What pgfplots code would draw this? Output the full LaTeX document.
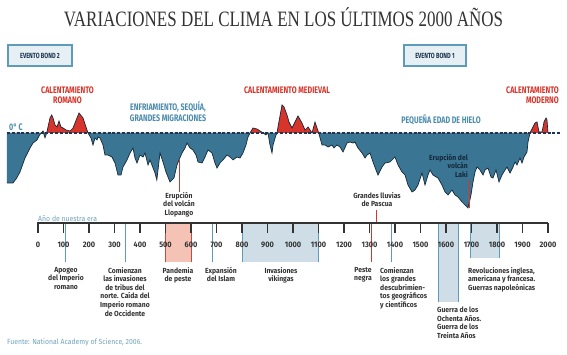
\documentclass[border=0pt]{standalone}
\usepackage{fontspec}
\usepackage{pgfplots}
\usepackage{pgfplotstable}
\pgfplotsset{compat=1.18}
\setmainfont{Fira Sans}
\newfontfamily\titlefont[FakeStretch=0.775]{Liberation Serif}
\newfontfamily\cond[FakeStretch=0.75]{Fira Sans}
\newfontfamily\lab[FakeStretch=0.92]{Fira Sans}
\definecolor{cblue}{HTML}{3A7593}
\definecolor{cred}{HTML}{D7352B}
\definecolor{tblue}{HTML}{4B8CAE}
\definecolor{navy}{HTML}{1E3550}
\definecolor{tl}{HTML}{333333}
\definecolor{band}{HTML}{CFDDE7}
\definecolor{bandedge}{HTML}{5E9BBA}
\definecolor{pinkb}{HTML}{F4C3B6}
\definecolor{pinke}{HTML}{C9493D}
\definecolor{boxfill}{HTML}{E6EFF4}
\definecolor{laki}{HTML}{16283A}

% year, temperature anomaly (arbitrary units, 0 = reference)
\pgfplotstableread{
yr t
-121.6 -50
-98 -50
-83.5 -45
-70.6 -39
-51 -25
-31.4 -15
-19.6 -10
-3.9 -7
3.9 -3
11.8 0
19.6 2
27.5 -4.7
34.1 0
47 15
53.7 18
58.8 15
66.7 8
74.5 6
82.4 12
90.2 6
98 5
109.8 3
125.5 2
137.3 5
152.9 15
160.8 20
176.5 15
188.2 6
196.1 0
207.8 -5
215.7 -12
223.5 -5
231.4 -7
235.3 -4
243.1 -5
254.9 -12
262.7 -22
274.5 -22
290.2 -24
302 -30
313.7 -42
325.5 -42
333.3 -34
349 -27
360.8 -20
372.5 -15
380.4 -25
388.2 -30
400 -22
411.8 -24
419.6 -20
431.4 -32
439.2 -27
458.8 -40
466 -47
478.4 -20
490.2 -29
502 -39
517.6 -49
533.3 -45
545 -32
552.9 -27
564.7 -20
576.5 -15
584.3 -10
596.1 -15
607.8 -17
619.6 -22
627.5 -29
643.1 -30
654.9 -24
666.7 -17
682.4 -20
694.1 -30
702 -35
713.7 -30
725.5 -27
741.2 -22
752.9 -24
764.7 -27
780.4 -24
792.2 -25
803.9 -20
815.7 -12
823.5 -4
831.4 0
843.1 5
858.8 4
870.6 2
882.4 0
894.1 -2
902 0
909.8 -12
917.6 -20
921.6 -12
933.3 -2
937.3 0
941.2 6
956.9 28
964.7 26
976.5 18
984.3 11
996.1 5
1007.8 11
1019.6 17
1035.3 10
1047.1 3
1058.8 6
1074.5 0
1086.3 11
1094.1 5
1102 -1
1113.7 -12
1125.5 -12
1137.3 -14
1152.9 -12
1160.8 -15
1172.5 -12
1184.3 -14
1196.1 -19
1211.8 -10
1223.5 -9
1235.3 -10
1243.1 -9
1254.9 -15
1270.6 -20
1282.4 -25
1290.2 -22
1302 -20
1313.7 -29
1325.5 -37
1333.3 -42
1349 -34
1360.8 -30
1380.4 -29
1400 -24
1411.8 -32
1427.5 -39
1439.2 -42
1451 -52
1466.7 -59
1478.4 -57
1490.2 -52
1505.9 -40
1517.6 -52
1529.4 -42
1537.3 -37
1549 -42
1568.6 -45
1584.3 -52
1596.1 -59
1607.8 -62
1623.5 -57
1635.3 -62
1647.1 -64
1662.7 -69
1674.5 -72
1686.3 -75
1698 -62
1705.9 -49
1713.7 -39
1721.6 -34
1733.3 -37
1745.1 -42
1752.9 -37
1764.7 -35
1776.5 -44
1784.3 -45
1796.1 -37
1807.8 -49
1819.6 -42
1831.4 -37
1839.2 -34
1851 -40
1862.7 -34
1870.6 -29
1878.4 -32
1890.2 -25
1898 -30
1905.9 -24
1917.6 -19
1921.6 -9
1929.4 0
1941.2 6
1949 10
1956.9 11
1964.7 1
1976.5 1
1984.3 11
1992.2 15
1996.1 13
2000 0
}\curve

\begin{document}
\begin{tikzpicture}
\useasboundingbox[fill=white] (0,0) rectangle (567bp,355bp);
% ---------- main axis: temperature curve ----------
\begin{axis}[at={(0,0)}, anchor=south west, width=567bp, height=355bp,
  scale only axis, xmin=-149.02, xmax=2074.5, ymin=-222, ymax=133,
  hide axis, clip=false]
 % period bands below the time line
 \fill[pinkb] (axis cs:500,-90) rectangle (axis cs:600,-129);
 \fill[band] (axis cs:800,-90) rectangle (axis cs:1100,-129);
 \fill[band] (axis cs:1570,-90) rectangle (axis cs:1648,-169);
 \fill[band] (axis cs:1697,-90) rectangle (axis cs:1810,-125);
 \draw[pinke, line width=0.9pt] (axis cs:500,-90) -- (axis cs:500,-129) (axis cs:600,-90) -- (axis cs:600,-129);
 \draw[bandedge, line width=0.9pt]
   (axis cs:800,-90) -- (axis cs:800,-129) (axis cs:1100,-90) -- (axis cs:1100,-129)
   (axis cs:1570,-90) -- (axis cs:1570,-169) (axis cs:1648,-90) -- (axis cs:1648,-169)
   (axis cs:1697,-90) -- (axis cs:1697,-125) (axis cs:1810,-90) -- (axis cs:1810,-125)
   (axis cs:109,-90) -- (axis cs:109,-129) (axis cs:341,-90) -- (axis cs:341,-129)
   (axis cs:686,-90) -- (axis cs:686,-129) (axis cs:1387,-90) -- (axis cs:1387,-129);
 \draw[cred, line width=0.9pt] (axis cs:1309,-90) -- (axis cs:1309,-129);
 % curve
 \addplot[fill=cblue, draw=none] table[x=yr, y expr={min(\thisrow{t},0)}] {\curve} \closedcycle;
 \addplot[fill=cred, draw=none] table[x=yr, y expr={max(\thisrow{t},0)}] {\curve} \closedcycle;
 \addplot[laki, line width=0.7pt] table[x=yr, y=t] {\curve};
 \addplot[navy, line width=1.4pt, dash pattern=on 3pt off 1.8pt] coordinates {(-121,0) (2047,0)};
 % event markers
 \draw[cred, line width=0.9pt] (axis cs:553,-27) -- (axis cs:553,-59);
 \draw[cred, line width=0.9pt] (axis cs:1329,-77) -- (axis cs:1329,-90);
 \draw[cred, line width=0.9pt] (axis cs:1690,-47) -- (axis cs:1690,-75);
\end{axis}
% ---------- time line ----------
\begin{axis}[at={(37bp,132bp)}, anchor=south west, width=511bp, height=20bp,
  scale only axis, xmin=-4, xmax=2000, ymin=0, ymax=1,
  axis x line=bottom, axis y line=none,
  x axis line style={-, line width=1.3pt, color=tl},
  xtick={0,100,...,2000},
  xticklabels={0,100,200,300,400,500,600,700,800,900,1000,1100,1200,1300,1400,1500,1600,1700,1800,1900,2000},
  tick align=outside, major tick length=10bp,
  xtick style={line width=1.3pt, color=tl},
  xticklabel style={font=\lab\bfseries\fontsize{8}{9}\selectfont, text=tl, anchor=north, inner sep=0pt, yshift=-8.5bp}]
 \addplot[draw=none] coordinates {(0,0)};
\end{axis}
% ---------- texts (pixel coordinates, y downward) ----------
\begin{scope}[x=1bp, y=-1bp, shift={(0,355bp)}, every node/.style={inner sep=0pt}]
 \node[anchor=base, text=black!80, font=\titlefont\fontsize{22}{24}\selectfont] at (283.5,27) {VARIACIONES DEL CLIMA EN LOS ÚLTIMOS 2000 AÑOS};
 % Bond boxes
 \draw[bandedge, fill=boxfill, line width=1.1pt] (8,45) rectangle (72,66);
 \node[text=navy, font=\cond\bfseries\fontsize{7.5}{8}\selectfont] at (40,56) {EVENTO BOND 2};
 \draw[bandedge, fill=boxfill, line width=1.1pt] (404,45) rectangle (466,66);
 \node[text=navy, font=\cond\bfseries\fontsize{7.5}{8}\selectfont] at (435,56) {EVENTO BOND 1};
 % period labels
 \begin{scope}[every node/.append style={font=\cond\bfseries\fontsize{9.5}{10}\selectfont}]
  \node[anchor=base, text=cred] at (67.5,93.5) {CALENTAMIENTO};
  \node[anchor=base, text=cred] at (67.5,103.5) {ROMANO};
  \node[anchor=base, text=tblue] at (168,110.5) {ENFRIAMIENTO, SEQUÍA,};
  \node[anchor=base, text=tblue] at (168,121.5) {GRANDES MIGRACIONES};
  \node[anchor=base, text=cred] at (287,93.5) {CALENTAMIENTO MEDIEVAL};
  \node[anchor=base, text=tblue] at (441,123.5) {PEQUEÑA EDAD DE HIELO};
  \node[anchor=base east, text=cred] at (559,93.5) {CALENTAMIENTO};
  \node[anchor=base east, text=cred] at (559,103.5) {MODERNO};
  \node[anchor=base west, text=tblue] at (9,130.5) {0° C};
 \end{scope}
 % event labels
 \begin{scope}[every node/.append style={font=\lab\bfseries\fontsize{7.4}{8.6}\selectfont, text=tl}]
  \node[anchor=north, align=center] at (179,192) {Erupción\\del volcán\\Llopango};
  \node[anchor=north, align=center] at (377,192) {Grandes lluvias\\de Pascua};
  \node[anchor=north east, align=right, text=laki] at (468,154) {Erupción del\\volcán\\Laki};
  \node[anchor=north, align=center] at (66,267) {Apogeo\\del Imperio\\romano};
  \node[anchor=north, align=center] at (125,267) {Comienzan\\las invasiones\\de tribus del\\norte. Caída del\\Imperio romano\\de Occidente};
  \node[anchor=north, align=center] at (178,267) {Pandemia\\de peste};
  \node[anchor=north, align=center] at (221,267) {Expansión\\del Islam};
  \node[anchor=north, align=center] at (281,267) {Invasiones\\vikingas};
  \node[anchor=north, align=center] at (363,267) {Peste\\negra};
  \node[anchor=north west, align=left] at (380,267) {Comienzan\\los grandes\\descubrimien-\\tos geográficos\\y científicos};
  \node[anchor=north west, align=left] at (437,307) {Guerra de los\\Ochenta Años.\\Guerra de los\\Treinta Años};
  \node[anchor=north west, align=left] at (468,267) {Revoluciones inglesa,\\americana y francesa.\\Guerras napoleónicas};
 \end{scope}
 \node[anchor=base west, text=tblue!80, font=\lab\fontsize{7.5}{8}\selectfont] at (38,221.5) {Año de nuestra era};
 \node[anchor=base west, text=tblue!80, font=\lab\fontsize{7.5}{8}\selectfont] at (7,345) {Fuente: National Academy of Science, 2006.};
\end{scope}
\end{tikzpicture}
\end{document}
